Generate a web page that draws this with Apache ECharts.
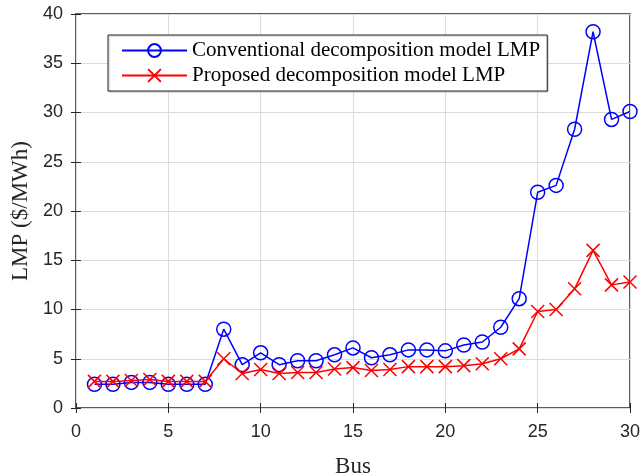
<!DOCTYPE html>
<html>
<head>
<meta charset="utf-8">
<script src="https://cdn.jsdelivr.net/npm/echarts@6/dist/echarts.min.js"></script>
<style>
  html, body { margin: 0; padding: 0; background: #fff; }
  #chart { width: 642px; height: 475px; }
</style>
</head>
<body>
<div id="chart"></div>
<script>
// Bus numbers of the 30-bus system
const buses = [1,2,3,4,5,6,7,8,9,10,11,12,13,14,15,16,17,18,19,20,21,22,23,24,25,26,27,28,29,30];

// LMP results ($/MWh) per bus
const conventionalLMP = [2.4,2.4,2.6,2.6,2.4,2.4,2.4,8.0,4.4,5.6,4.4,4.8,4.8,5.4,6.1,5.1,5.4,5.9,5.9,5.8,6.4,6.7,8.2,11.1,21.9,22.6,28.3,38.2,29.3,30.1];
const proposedLMP     = [2.7,2.7,2.8,2.9,2.7,2.7,2.7,5.0,3.5,3.9,3.5,3.6,3.6,3.95,4.1,3.8,3.9,4.2,4.2,4.2,4.3,4.5,5.0,6.0,9.8,10.0,12.1,16.0,12.5,12.8];

const seriesNames = ['Conventional decomposition model LMP', 'Proposed decomposition model LMP'];

const toPairs = vals => buses.map((b, i) => [b, vals[i]]);

const tickFont = { fontFamily: 'Liberation Sans', fontSize: 18, color: '#262626' };
const titleFont = { fontFamily: 'Liberation Serif', fontSize: 23, color: '#262626' };
const gridLine = { show: true, lineStyle: { color: '#dcdcdc', width: 1 } };
const tick = { show: true, inside: true, length: 5, lineStyle: { color: '#262626', width: 1 } };

const chart = echarts.init(document.getElementById('chart'), null, { renderer: 'canvas' });
chart.setOption({
  animation: false,
  backgroundColor: '#fff',
  grid: {
    left: 76, right: 12, top: 14, bottom: 67,
    containLabel: false, outerBoundsMode: 'none',
    show: true, borderColor: '#262626', borderWidth: 1.5, backgroundColor: 'transparent'
  },
  legend: {
    orient: 'vertical',
    left: 108, top: 35,
    padding: [5, 7, 5, 13],
    itemGap: 4,
    itemWidth: 65, itemHeight: 16,
    backgroundColor: '#fff',
    borderColor: '#262626', borderWidth: 1,
    shadowColor: 'rgba(0,0,0,0.25)', shadowOffsetX: 1, shadowOffsetY: 1, shadowBlur: 1,
    textStyle: { fontFamily: 'Liberation Serif', fontSize: 21, color: '#000' },
    data: seriesNames
  },
  xAxis: [{
    type: 'value', min: 0, max: 30, interval: 5,
    name: 'Bus', nameLocation: 'middle', nameGap: 47,
    nameTextStyle: titleFont,
    axisLine: { show: false }, axisTick: tick, splitLine: gridLine,
    axisLabel: Object.assign({ margin: 15 }, tickFont)
  }, {
    type: 'value', min: 0, max: 30, interval: 5, position: 'top',
    axisLine: { show: false }, axisTick: tick, splitLine: { show: false }, axisLabel: { show: false }
  }],
  yAxis: [{
    type: 'value', min: 0, max: 40, interval: 5,
    name: 'LMP ($/MWh)', nameLocation: 'middle', nameGap: 43,
    nameTextStyle: titleFont,
    axisLine: { show: false }, axisTick: tick, splitLine: gridLine,
    axisLabel: Object.assign({ margin: 13 }, tickFont)
  }, {
    type: 'value', min: 0, max: 40, interval: 5, position: 'right',
    axisLine: { show: false }, axisTick: tick, splitLine: { show: false }, axisLabel: { show: false }
  }],
  series: [{
    name: seriesNames[0], type: 'line',
    data: toPairs(conventionalLMP),
    color: '#0000ff',
    symbol: 'circle', symbolSize: 14,
    lineStyle: { color: '#0000ff', width: 1.5 },
    itemStyle: { color: 'rgba(0,0,0,0)', borderColor: '#0000ff', borderWidth: 1.5 },
    z: 3
  }, {
    name: seriesNames[1], type: 'line',
    data: toPairs(proposedLMP),
    color: '#ff0000',
    symbol: 'path://M0,0L10,10M10,0L0,10', symbolSize: 13,
    lineStyle: { color: '#ff0000', width: 1.5 },
    itemStyle: { color: 'rgba(0,0,0,0)', borderColor: '#ff0000', borderWidth: 1.5 },
    z: 4
  }]
});
</script>
</body>
</html>
